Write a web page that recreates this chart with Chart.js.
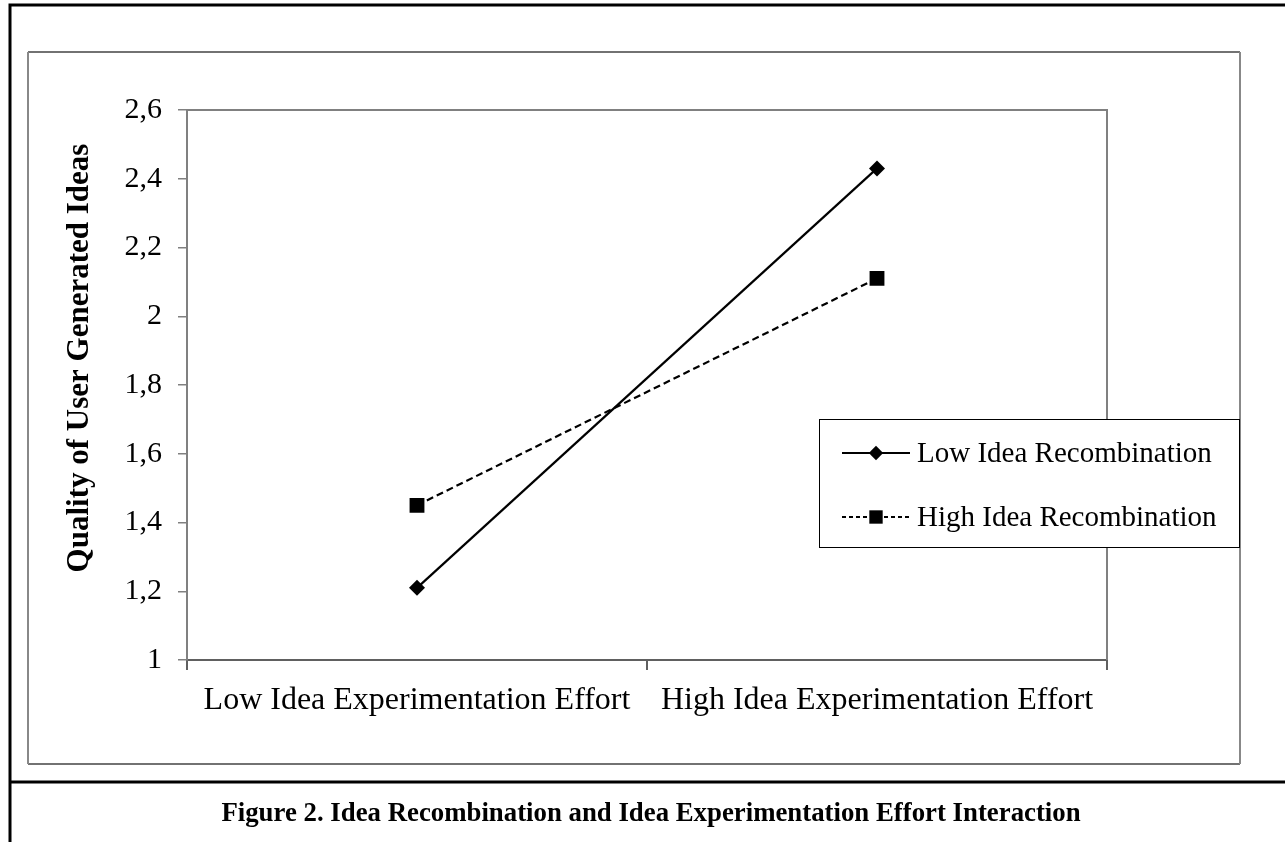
<!DOCTYPE html>
<html>
<head>
<meta charset="utf-8">
<script src="https://cdn.jsdelivr.net/npm/chart.js@4.4.0/dist/chart.umd.min.js"></script>
<style>
  html, body { margin: 0; padding: 0; background: #fff; }
  #wrap { width: 1285px; height: 842px; position: relative; }
</style>
</head>
<body>
<div id="wrap"><canvas id="interactionchart" width="1285" height="842"></canvas></div>
<script>
const categories = ['Low Idea Experimentation Effort', 'High Idea Experimentation Effort'];
const lowRecombination = [1.21, 2.43];
const highRecombination = [1.45, 2.11];
const seriesNames = ['Low Idea Recombination', 'High Idea Recombination'];
const yTicks = [1, 1.2, 1.4, 1.6, 1.8, 2, 2.2, 2.4, 2.6];
const yTitle = 'Quality of User Generated Ideas';
const caption = 'Figure 2. Idea Recombination and Idea Experimentation Effort Interaction';

const serif = "'Liberation Serif', 'Times New Roman', serif";

// frame, plot box, legend, axis title and caption
const framePlugin = {
    id: 'frame',
    beforeDraw(chart) {
        const ctx = chart.ctx;
        ctx.save();
        ctx.fillStyle = '#fff';
        ctx.fillRect(0, 0, chart.width, chart.height);
        ctx.restore();
    },
    afterDraw(chart) {
        const ctx = chart.ctx;
        const a = chart.chartArea;
        ctx.save();

        // outer black border
        ctx.strokeStyle = '#000';
        ctx.lineWidth = 3;
        ctx.beginPath();
        ctx.moveTo(10, 842); ctx.lineTo(10, 5); ctx.lineTo(1285, 5);
        ctx.moveTo(10, 782); ctx.lineTo(1285, 782);
        ctx.stroke();

        // inner chart box
        ctx.lineWidth = 1.5;
        ctx.strokeStyle = '#444';
        ctx.beginPath();
        ctx.moveTo(28, 52); ctx.lineTo(1240, 52);
        ctx.moveTo(28, 764); ctx.lineTo(1240, 764);
        ctx.stroke();
        ctx.lineWidth = 2;
        ctx.strokeStyle = '#888';
        ctx.beginPath();
        ctx.moveTo(28, 52); ctx.lineTo(28, 764);
        ctx.moveTo(1240, 52); ctx.lineTo(1240, 764);
        ctx.stroke();

        // plot area top and right edges
        ctx.strokeStyle = '#808080';
        ctx.lineWidth = 2;
        ctx.beginPath();
        ctx.moveTo(a.left, a.top); ctx.lineTo(a.right, a.top); ctx.lineTo(a.right, a.bottom);
        ctx.stroke();

        // y axis title
        ctx.fillStyle = '#000';
        ctx.font = 'bold 31px ' + serif;
        ctx.textAlign = 'center';
        ctx.textBaseline = 'middle';
        ctx.translate(80, 358);
        ctx.rotate(-Math.PI / 2);
        ctx.fillText(yTitle, 0, 0);
        ctx.setTransform(1, 0, 0, 1, 0, 0);

        // caption
        ctx.font = 'bold 26.8px ' + serif;
        ctx.fillText(caption, 651, 814);

        // legend box
        ctx.fillStyle = '#fff';
        ctx.fillRect(819, 419, 420, 128);
        ctx.strokeStyle = '#000';
        ctx.lineWidth = 1;
        ctx.strokeRect(819.5, 419.5, 420, 128);

        const rows = [453, 517];
        chart.data.datasets.forEach((ds, i) => {
            const y = rows[i];
            ctx.strokeStyle = ds.borderColor;
            ctx.lineWidth = 2;
            ctx.setLineDash(i ? [4, 3] : []);
            ctx.beginPath();
            ctx.moveTo(842, y); ctx.lineTo(910, y);
            ctx.stroke();
            ctx.setLineDash([]);
            ctx.fillStyle = '#000';
            Chart.helpers.drawPoint(ctx, {
                pointStyle: ds.pointStyle, rotation: 0,
                radius: ds.pointRadius * 0.9, borderWidth: 0
            }, 876, y);
            ctx.fillStyle = '#000';
            ctx.font = '29px ' + serif;
            ctx.textAlign = 'left';
            ctx.textBaseline = 'middle';
            ctx.fillText(ds.label, 917, y + 1);
        });
        ctx.restore();
    }
};

const interactiondata = {
    labels: categories,
    datasets: [{
        label: seriesNames[0],
        data: lowRecombination,
        borderColor: '#000',
        backgroundColor: '#000',
        borderWidth: 2.2,
        pointStyle: 'rectRot',
        pointRadius: 8,
        pointBorderWidth: 0
    }, {
        label: seriesNames[1],
        data: highRecombination,
        borderColor: '#000',
        backgroundColor: '#000',
        borderWidth: 2.2,
        borderDash: [7, 4],
        pointStyle: 'rect',
        pointRadius: 10.5,
        pointBorderWidth: 0
    }]
};

const interactionconfig = {
    type: 'line',
    data: interactiondata,
    plugins: [framePlugin],
    options: {
        responsive: false,
        animation: false,
        devicePixelRatio: 1,
        layout: {
            padding: { top: 110, right: 178, left: 0, bottom: 0 }
        },
        scales: {
            x: {
                offset: true,
                afterFit(scale) { scale.height = 182; },
                grid: {
                    offset: true,
                    drawOnChartArea: false,
                    tickLength: 10,
                    color: '#606060',
                    lineWidth: 2
                },
                border: { display: true, color: '#606060', width: 2 },
                ticks: {
                    color: '#000',
                    padding: 11,
                    maxRotation: 0,
                    font: { family: serif, size: 32 }
                }
            },
            y: {
                min: 1,
                max: 2.6,
                afterFit(scale) { scale.width = 187; },
                afterBuildTicks(scale) {
                    scale.ticks = yTicks.map(v => ({ value: v }));
                },
                grid: {
                    drawOnChartArea: false,
                    tickLength: 9,
                    color: '#808080',
                    lineWidth: 1.5
                },
                border: { display: true, color: '#808080', width: 2 },
                ticks: {
                    color: '#000',
                    padding: 16,
                    font: { family: serif, size: 30 },
                    callback: v => String(Math.round(v * 10) / 10).replace('.', ',')
                }
            }
        },
        plugins: {
            legend: { display: false },
            tooltip: { enabled: false }
        }
    }
};

const interactionchart = new Chart(
    document.getElementById('interactionchart'),
    interactionconfig
);
</script>
</body>
</html>
